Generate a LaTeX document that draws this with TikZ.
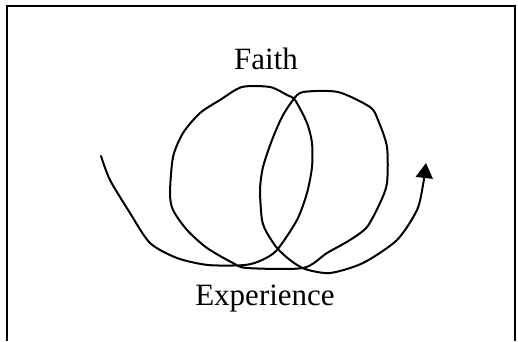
\documentclass[tikz,border=0pt]{standalone}
\usepackage{fontspec}
\setmainfont{Liberation Serif}
\usetikzlibrary{arrows.meta}
\begin{document}
\begin{tikzpicture}[x=1pt,y=-1pt,
  frameline/.style={line width=2.2pt},
  spiral/.style={line width=2pt,line join=round,line cap=round},
  lbl/.style={font=\fontsize{31}{31}\selectfont,anchor=base,inner sep=0pt}]
\useasboundingbox (0,0) rectangle (518,341);
\draw[frameline] (7,341) -- (7,6) -- (515,6) -- (515,341);
\node[lbl] (faith) at (266,69) {Faith};
\node[lbl] (exp) at (265,305) {Experience};
\draw[spiral,-{Triangle[width=17pt,length=15pt]}] plot[smooth,tension=0.45] coordinates {
 (101,156) (110,180) (130,213) (150,243) (177,258) (208,265) (245,265)
 (262,260) (277,250) (297,220) (307,193) (312,167) (312,143) (307,123)
 (295,100) (287,95) (270,87) (242,87) (220,100) (200,113) (183,133)
 (173,157) (170,193) (173,210) (187,230) (207,248) (233,263) (247,268)
 (303,268) (327,253) (350,240) (367,227) (380,203) (387,183) (387,147)
 (378,120) (370,107) (338,92) (303,92) (293,100) (282,117) (272,140)
 (263,167) (260,190) (262,220) (267,233) (277,248) (290,260) (305,269)
 (330,273) (363,263) (397,240) (417,210) (423,185) (426,163)};
\end{tikzpicture}
\end{document}
